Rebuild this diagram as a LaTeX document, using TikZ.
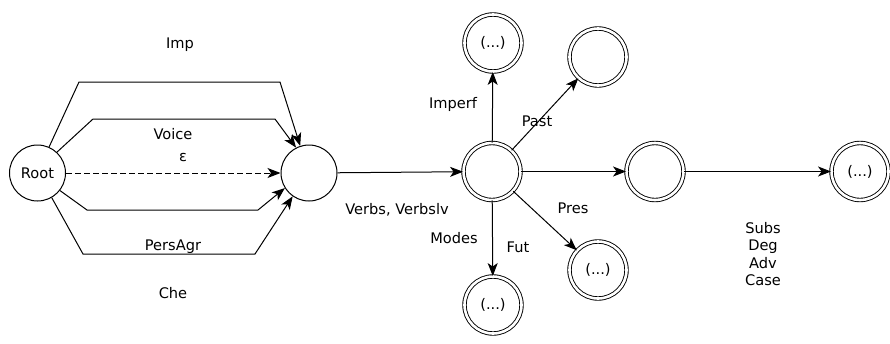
\documentclass[tikz,border=0pt]{standalone}
\usepackage{fontspec}
\setmainfont{DejaVu Sans}
\usetikzlibrary{arrows.meta}
\tikzset{
  edge/.style={line width=1pt, -{Stealth[length=13pt,width=10pt,inset=3.5pt]}},
  state/.style={circle, draw, line width=1pt, minimum size=56pt, inner sep=0pt},
  final/.style={circle, draw, line width=0.9pt, double, double distance=2.6pt, minimum size=57pt, inner sep=0pt},
  lbl/.style={inner sep=0pt, font=\fontsize{14.6}{17.5}\selectfont},
}
\begin{document}
\begin{tikzpicture}[x=1pt,y=-1pt]
\useasboundingbox (0,0) rectangle (890,343);
\fill[white] (0,0) rectangle (890,343);

% states
\node[state, lbl, minimum size=56pt] (root) at (37.5,173) {Root};
\node[state] (mid) at (309,173) {};
\node[final] (hub) at (492,171.5) {};
\node[final, lbl] (top) at (493,43) {(...)};
\node[final] (ur) at (598,57) {};
\node[final] (right) at (655,171.5) {};
\node[final, lbl] (far) at (860,171.5) {(...)};
\node[final, lbl] (lr) at (598,270) {(...)};
\node[final, lbl] (bot) at (493,305) {(...)};

% bundle of edges from the root
\draw[edge] (root.66) -- (79,82) -- (280,82) -- (mid.108);
\draw[edge] (root.47) -- (93,119) -- (275,119) -- (mid.117);
\draw[edge, dash pattern=on 6pt off 3pt] (root) -- (mid);
\draw[edge] (root.-38) -- (87,210) -- (258,210) -- (mid.212);
\draw[edge] (root.-60) -- (83,254) -- (255,254) -- (mid.235);

% remaining transitions
\draw[edge] (mid) -- (hub);
\draw[edge] (hub) -- (top);
\draw[edge] (hub) -- (ur);
\draw[edge] (hub) -- (right);
\draw[edge] (right) -- (far);
\draw[edge] (hub) -- (lr);
\draw[edge] (hub) -- (bot);

% labels
\node[lbl] (limp) at (180,45) {Imp};
\node[lbl] (lvoice) at (173,134) {Voice};
\node[lbl] (leps) at (183,158) {ε};
\node[lbl] (lpers) at (173,247) {PersAgr};
\node[lbl] (lche) at (173,293) {Che};
\node[lbl] (lverbs) at (397,210) {Verbs, Verbslv};
\node[lbl] (limperf) at (453,104) {Imperf};
\node[lbl] (lpast) at (537,121) {Past};
\node[lbl] (lpres) at (573,208) {Pres};
\node[lbl] (lmodes) at (454,238) {Modes};
\node[lbl] (lfut) at (518,247) {Fut};
\node[lbl, align=center, font=\fontsize{14.6}{17.6}\selectfont] (lsubs) at (763,254) {Subs\\Deg\\Adv\\Case};
\end{tikzpicture}
\end{document}
